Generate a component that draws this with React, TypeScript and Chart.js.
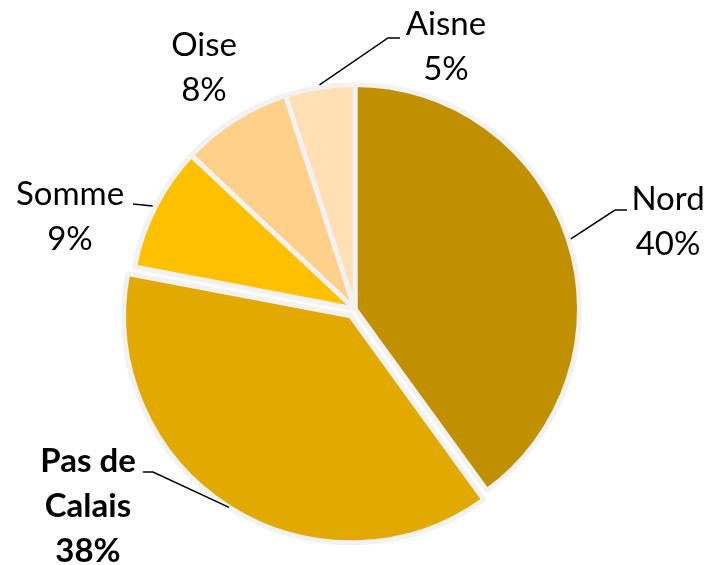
import React, { useEffect, useRef } from "react";
import { Chart, registerables } from "chart.js";

Chart.register(...registerables);

const categories = ["Nord", "Pas de Calais", "Somme", "Oise", "Aisne"];
const shares = [40, 38, 9, 8, 5];
const percentLabels = ["40%", "38%", "9%", "8%", "5%"];
const labelLines = [["Nord", "40%"], ["Pas de", "Calais", "38%"], ["Somme", "9%"], ["Oise", "8%"], ["Aisne", "5%"]];
const colors = ["#C09000", "#E2AA00", "#FFC000", "#FFD08A", "#FFDFB4"];
const offsets = [0, 32, 0, 0, 0];

// label layout: center x, first baseline y, bold
const labelPos = [
  { x: 668, y: 210, bold: false },
  { x: 88, y: 472, bold: true },
  { x: 70, y: 205, bold: false },
  { x: 204, y: 56, bold: false },
  { x: 446, y: 35, bold: false },
];
// leader lines: elbow and end points (null = no leader)
const leaders: (number[] | null)[] = [
  [615, 210, 627, 210],
  [153, 472, 143, 472],
  [133, 204, 133, 204],
  null,
  [388, 38, 400, 38],
];

const labelPlugin = {
  id: "pieLabels",
  afterDatasetsDraw(chart: any) {
    const ctx = chart.ctx;
    const meta = chart.getDatasetMeta(0);
    ctx.save();
    meta.data.forEach((arc: any, i: number) => {
      const { x, y, startAngle, endAngle, outerRadius } = arc.getProps(
        ["x", "y", "startAngle", "endAngle", "outerRadius"],
        true
      );
      const mid = (startAngle + endAngle) / 2;
      const trans = (arc.options.offset || 0) / 4;
      const r = outerRadius + 2.5 + trans;
      const ax = x + Math.cos(mid) * r;
      const ay = y + Math.sin(mid) * r;
      const ld = leaders[i];
      if (ld) {
        ctx.beginPath();
        ctx.strokeStyle = "#000";
        ctx.lineWidth = 1.5;
        ctx.moveTo(ax, ay);
        ctx.lineTo(ld[0], ld[1]);
        ctx.lineTo(ld[2], ld[3]);
        ctx.stroke();
      }
      const p = labelPos[i];
      ctx.fillStyle = "#000";
      ctx.textAlign = "center";
      ctx.textBaseline = "alphabetic";
      ctx.font = (p.bold ? "bold " : "") + "33px Lato, 'Open Sans', sans-serif";
      labelLines[i].forEach((t, k) => {
        ctx.fillText(t, p.x, p.y + k * 45);
      });
    });
    ctx.restore();
  },
};

export default function App() {
  const ref = useRef<HTMLCanvasElement>(null);
  useEffect(() => {
    document.body.style.margin = "0";
    const chart = new Chart(ref.current!, {
      type: "pie",
      data: {
        labels: categories,
        datasets: [
          {
            data: shares,
            backgroundColor: colors,
            borderColor: "#F2F2F2",
            borderWidth: 5,
            offset: offsets,
          } as any,
        ],
      },
      options: {
        animation: false,
        responsive: false,
        radius: 224.5,
        layout: { padding: { top: 53, bottom: 0, left: 0, right: 0 } },
        plugins: {
          legend: { display: false },
          tooltip: { enabled: false },
        },
      } as any,
      plugins: [labelPlugin],
    });
    return () => chart.destroy();
  }, []);
  return (
    <div style={{ position: "absolute", left: 0, top: 0, width: 710, height: 565, background: "#fff" }}>
      <canvas ref={ref} width={710} height={565} />
    </div>
  );
}
